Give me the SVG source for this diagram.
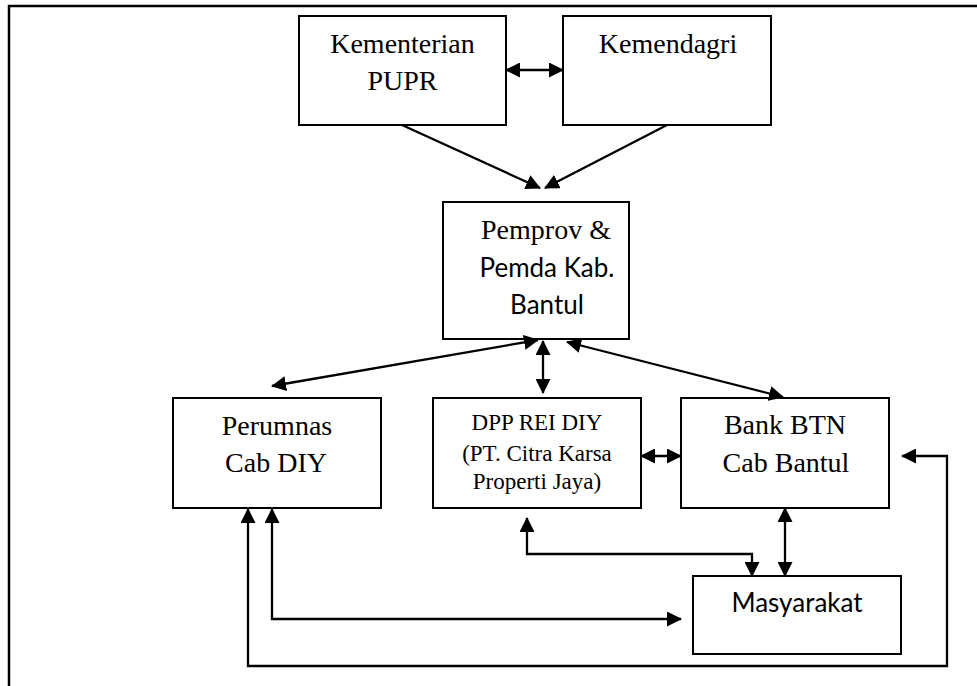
<svg xmlns="http://www.w3.org/2000/svg" width="977" height="686" viewBox="0 0 977 686">
<style>
.box{fill:#fff;stroke:#000;stroke-width:2}
.serif{font-family:"Liberation Serif","Times New Roman",serif;font-size:28px;fill:#000;text-anchor:middle}
.sm{font-size:23px}
.sans{font-family:Lato,"Open Sans",sans-serif;font-size:26px;fill:#000;text-anchor:middle}
.ln{fill:none;stroke:#000;stroke-width:2.3}
</style>
<defs>
<marker id="ah" markerUnits="userSpaceOnUse" markerWidth="15" markerHeight="15" refX="14" refY="7.5" orient="auto-start-reverse" viewBox="0 0 15 15">
<path d="M0,0 L15,7.5 L0,15 z" fill="#000"/>
</marker>
</defs>
<rect width="977" height="686" fill="#fff"/>
<g id="frame"><path d="M9,686 V6 H977" fill="none" stroke="#000" stroke-width="2.5"/></g>

<g id="pupr"><rect class="box" x="299" y="16" width="207" height="109"/>
<text class="serif" x="402.5" y="53">Kementerian</text><text class="serif" x="402.5" y="90">PUPR</text></g>
<g id="kemendagri"><rect class="box" x="563" y="16" width="208" height="109"/>
<text class="serif" x="668" y="53">Kemendagri</text></g>
<g id="pemprov"><rect class="box" x="443" y="202" width="186" height="137"/>
<text class="serif" x="546" y="239">Pemprov &amp;</text>
<text class="sans" x="547" y="277">Pemda Kab.</text>
<text class="sans" x="547" y="314">Bantul</text></g>
<g id="perumnas"><rect class="box" x="173" y="398" width="208" height="110"/>
<text class="serif" x="277" y="435">Perumnas</text><text class="serif" x="276" y="472">Cab DIY</text></g>
<g id="dpp"><rect class="box" x="433" y="398" width="208" height="110"/>
<text class="serif sm" x="537" y="430">DPP REI DIY</text>
<text class="serif sm" x="537" y="461">(PT. Citra Karsa</text>
<text class="serif sm" x="537" y="489">Properti Jaya)</text></g>
<g id="btn"><rect class="box" x="681" y="398" width="208" height="110"/>
<text class="serif" x="785" y="434">Bank BTN</text><text class="serif" x="786" y="472">Cab Bantul</text></g>
<g id="masyarakat"><rect class="box" x="693" y="576" width="208" height="78"/>
<text class="sans" x="797" y="612">Masyarakat</text></g>

<g id="connectors">
<line class="ln" x1="506" y1="70" x2="563" y2="70" marker-start="url(#ah)" marker-end="url(#ah)"/>
<line class="ln" x1="402" y1="125" x2="540" y2="188" marker-end="url(#ah)"/>
<line class="ln" x1="667" y1="125" x2="545" y2="188" marker-end="url(#ah)"/>
<line class="ln" x1="272" y1="386" x2="538" y2="340" marker-start="url(#ah)" marker-end="url(#ah)"/>
<line class="ln" x1="543" y1="341" x2="543" y2="393" marker-start="url(#ah)" marker-end="url(#ah)"/>
<line class="ln" x1="567" y1="342" x2="783" y2="397" marker-start="url(#ah)" marker-end="url(#ah)"/>
<line class="ln" x1="641" y1="456" x2="681" y2="456" marker-start="url(#ah)" marker-end="url(#ah)"/>
<line class="ln" x1="785" y1="508" x2="785" y2="576" marker-start="url(#ah)" marker-end="url(#ah)"/>
<path class="ln" d="M527,518 V554 H752 V576" marker-start="url(#ah)" marker-end="url(#ah)"/>
<path class="ln" d="M272,509 V619 H681" marker-start="url(#ah)" marker-end="url(#ah)"/>
<path class="ln" d="M248,509 V666 H947 V456 H902" marker-start="url(#ah)" marker-end="url(#ah)"/>
</g>
</svg>
